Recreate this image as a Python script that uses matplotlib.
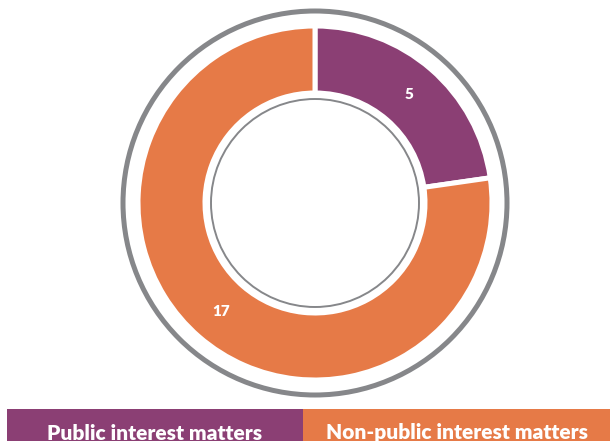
import matplotlib.pyplot as plt
from matplotlib.patches import Circle, Rectangle

categories = ['Public interest matters', 'Non-public interest matters']
counts = [5, 17]
colors = ['#8B3F74', '#E67A47']
ring_gray = '#86878A'

W, H = 610, 441
fig = plt.figure(figsize=(W / 100, H / 100), dpi=100)
ax = fig.add_axes([0, 0, 1, 1])

# donut, drawn in pixel-like units
cx, cy = 315, 238
r_out, r_in = 177, 110
wedges, texts = ax.pie(
    counts, colors=colors, startangle=90, counterclock=False,
    center=(cx, cy), radius=r_out,
    wedgeprops=dict(width=r_out - r_in, edgecolor='white', linewidth=3.6),
    labels=[str(c) for c in counts], labeldistance=(r_out + r_in) / 2 / r_out,
    textprops=dict(color='white', fontsize=11, fontweight='heavy', family='Lato',
                   ha='center', va='center'),
)

# outer frame ring and thin inner ring
ax.add_patch(Circle((cx, cy), 192, fill=False, edgecolor=ring_gray, linewidth=3.6))
ax.add_patch(Circle((cx, cy), 104, fill=False, edgecolor=ring_gray, linewidth=1.4))

# legend bars along the bottom
bar_x = [7, 303]
bar_w = [296, 307]
for x0, w, c, name in zip(bar_x, bar_w, colors, categories):
    ax.add_patch(Rectangle((x0, 0), w, 32, facecolor=c, edgecolor='none'))
    ax.text(x0 + w / 2, 1.5, name, color='white', fontsize=15, fontweight='heavy',
            family='Lato', ha='center', va='baseline')

ax.set_xlim(0, W)
ax.set_ylim(0, H)
ax.set_aspect('equal')
ax.axis('off')

fig.savefig('out.png', dpi=100)
